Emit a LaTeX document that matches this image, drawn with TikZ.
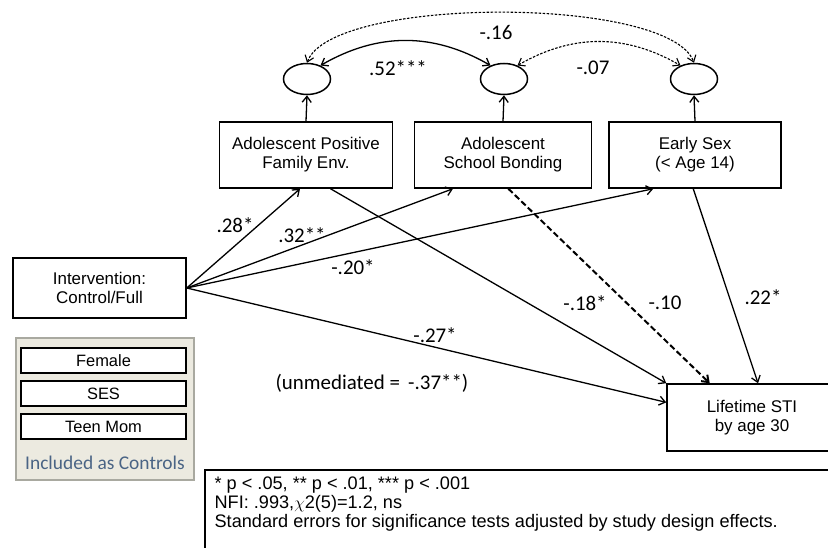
\documentclass[tikz,border=0pt]{standalone}
\usepackage{fontspec}
\setmainfont{Liberation Sans}
\newfontfamily\calfont{Carlito}
\usetikzlibrary{shapes.geometric,arrows.meta}
\definecolor{ctrlfill}{HTML}{ECEAE0}
\definecolor{ctrlline}{HTML}{A9A9A0}
\definecolor{ctrltext}{HTML}{4A6485}
\begin{document}
\begin{tikzpicture}[x=1bp, y=1bp, line width=1.3bp, >={Straight Barb[length=6bp,width=9bp]},
                        varbox/.style={draw, line width=1.5bp, align=center, inner sep=0pt,
                            minimum height=66bp, font=\fontsize{17}{19}\selectfont},
                        latent/.style={draw, ellipse, line width=1.5bp, inner sep=0pt,
                            minimum width=47bp, minimum height=31bp},
                        ctrlbox/.style={draw, fill=white, line width=1.8bp, inner sep=0pt,
                            minimum width=165bp, minimum height=25bp, font=\fontsize{16.5}{18}\selectfont},
                        coef/.style={font=\calfont\fontsize{21}{24}\selectfont, inner sep=0pt},
                        finedash/.style={line width=1.1bp, dash pattern=on 2.5bp off 1.5bp}]
                        \useasboundingbox (0,0) rectangle (828,548);

                        % latent residuals
                        \node[latent] (e1) at (307,469) {};
                        \node[latent] (e2) at (504,469) {};
                        \node[latent] (e3) at (694,469) {};

                        % mediators
                        \node[varbox, minimum width=173bp] (fam) at (306,393) {Adolescent Positive\\Family Env.};
                        \node[varbox, minimum width=177bp] (bond) at (503,393) {Adolescent\\School Bonding};
                        \node[varbox, minimum width=172bp] (sex) at (695,393) {Early Sex\\(< Age 14)};

                        % intervention, outcome
                        \node[varbox, minimum width=173bp, minimum height=60bp] (interv) at (99.5,260) {Intervention:\\Control/Full};
                        \node[varbox, minimum width=170bp, minimum height=67bp] (sti) at (752,130.5) {Lifetime STI\\by age 30};

                        % controls
                        \node[draw=ctrlline, fill=ctrlfill, line width=1.2bp, minimum width=178bp, minimum height=142bp] (ctrl) at (105,139) {};
                        \node[ctrlbox] (female) at (103.5,187.5) {Female};
                        \node[ctrlbox] (ses) at (103.5,154.5) {SES};
                        \node[ctrlbox] (teen) at (103.5,121.5) {Teen Mom};
                        \node[text=ctrltext, font=\calfont\fontsize{19.5}{22}\selectfont, inner sep=0pt] (ctrllab) at (105,85) {Included as Controls};

                        % residual arrows
                        \draw[->] (fam.north) -- (e1.south);
                        \draw[->] (bond.north) -- (e2.south);
                        \draw[->] (sex.north) -- (e3.south);

                        % correlations
                        \draw[<->] (e1.45) to[out=30,in=150] (e2.135);
                        \draw[<->, finedash] (e2.45) to[out=30,in=150] (e3.135);
                        \draw[<->, finedash] (e1.north) .. controls +(25,67) and +(-25,67) .. (e3.north);
                        \node[coef] (r12) at (398,480) {.52***};
                        \node[coef] (r23) at (593,480) {-.07};
                        \node[coef] (r13) at (496,515) {-.16};

                        % paths
                        \draw[->] (interv.east) -- (fam.-100);
                        \draw[->] (interv.east) -- (bond.-146.6);
                        \draw[->] (interv.east) -- (sex.-141.8);
                        \draw[->] (interv.east) -- (sti.170);
                        \draw[->] (fam.-54) -- (sti.north west);
                        \draw[->, line width=2bp, dash pattern=on 6bp off 3bp] (bond.-81.4) -- (sti.-141.4 |- sti.north);
                        \draw[->] (sex.-93) -- (sti.80);

                        \node[coef] (p1) at (235,323) {.28*};
                        \node[coef] (p2) at (302,313) {.32**};
                        \node[coef] (p3) at (353,281) {-.20*};
                        \node[coef] (p4) at (435,213) {-.27*};
                        \node[coef] (p5) at (585,245) {-.18*};
                        \node[coef] (p6) at (665,245) {-.10};
                        \node[coef] (p7) at (763,251) {.22*};
                        \node[coef] (unmed) at (372,165) {(unmediated = \,-.37**)};

                        % notes
                        \path[draw, line width=1.2bp] (205,-5) -- (205,78) -- (835,78);
                        \node[anchor=west, align=left, inner sep=0pt, font=\fontsize{18.2}{19}\selectfont] (notes) at (214,44)
                            {* p < .05, ** p < .01, *** p < .001\\NFI: .993,$\chi$2(5)=1.2, ns\\Standard errors for significance tests adjusted by study design effects.};
                    \end{tikzpicture}
\end{document}
